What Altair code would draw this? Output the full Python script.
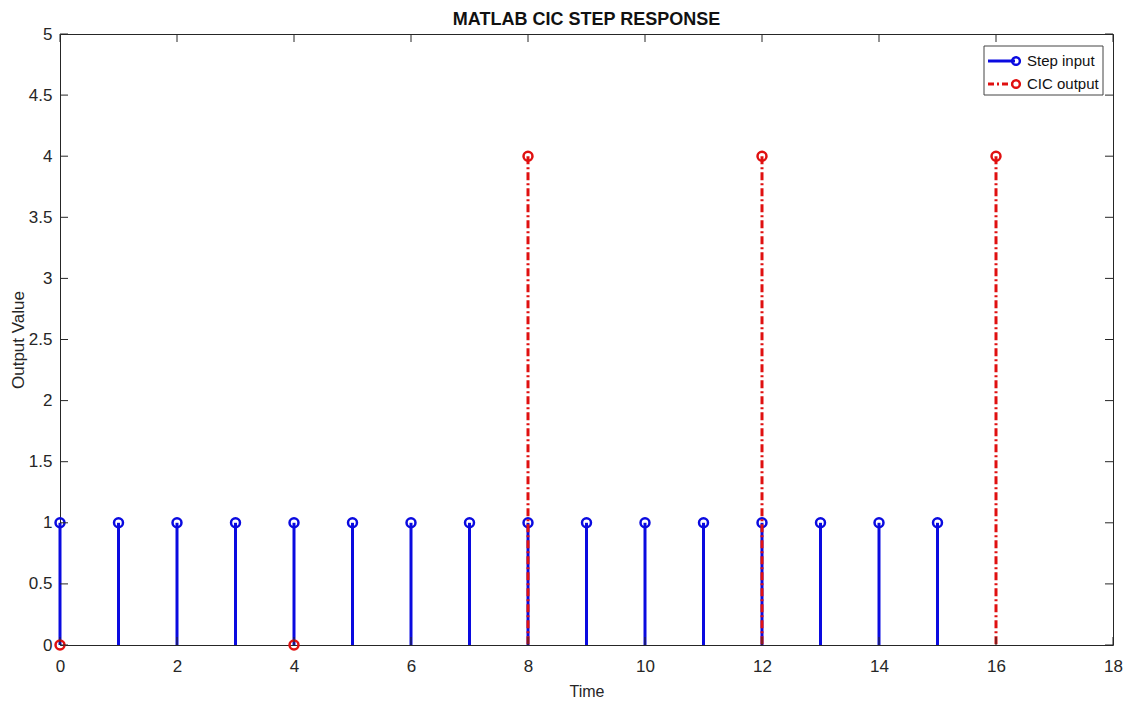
import altair as alt
import pandas as pd

# ---- data ----
step_t = list(range(16))
step_v = [1] * 16
cic_t = [0, 4, 8, 12, 16]
cic_v = [0, 0, 4, 4, 4]
x_ticks = [0, 2, 4, 6, 8, 10, 12, 14, 16, 18]
y_ticks = [0, 0.5, 1, 1.5, 2, 2.5, 3, 3.5, 4, 4.5, 5]
legend_labels = ["Step input", "CIC output"]

BLUE = "#0a0ae0"
RED = "#e01010"
AX = "#262626"
FONT = "Liberation Sans"
W, H = 1053, 611

step_df = pd.DataFrame({"t": step_t, "v": step_v, "base": [0] * len(step_t)})
cic_df = pd.DataFrame({"t": cic_t, "v": cic_v, "base": [0] * len(cic_t)})
xt_df = pd.DataFrame({"t": x_ticks})
yt_df = pd.DataFrame({"v": y_ticks})
one = pd.DataFrame({"a": [0]})

xs = alt.Scale(domain=[0, 18], nice=False, zero=False)
ys = alt.Scale(domain=[0, 5], nice=False, zero=False)

x_axis = alt.Axis(values=x_ticks, ticks=False, domain=False, grid=False, format="~g",
                  labelFlush=False, labelFontSize=17, labelColor=AX, labelFont=FONT,
                  labelPadding=13,
                  title="Time", titleFontSize=16, titleFont=FONT, titleColor=AX,
                  titleFontWeight="normal", titlePadding=9)
y_axis = alt.Axis(values=y_ticks, ticks=False, domain=False, grid=False, format="~g",
                  labelFlush=False, labelFontSize=17, labelColor=AX, labelFont=FONT,
                  labelPadding=8,
                  title="Output Value", titleFontSize=17, titleFont=FONT, titleColor=AX,
                  titleFontWeight="normal", titlePadding=1)

base_x = alt.X("t:Q", scale=xs, axis=x_axis)
base_y = alt.Y("v:Q", scale=ys, axis=y_axis)

step_stems = alt.Chart(step_df).mark_rule(color=BLUE, strokeWidth=3).encode(
    x=base_x, y=base_y, y2="base:Q")
step_pts = alt.Chart(step_df).mark_point(shape="circle", filled=False, color=BLUE,
                                         size=80, strokeWidth=2.5, opacity=1).encode(
    x=alt.X("t:Q", scale=xs), y=alt.Y("v:Q", scale=ys))
cic_stems = alt.Chart(cic_df).mark_rule(color=RED, strokeWidth=3,
                                        strokeDash=[8, 3, 2, 3]).encode(
    x=alt.X("t:Q", scale=xs), y=alt.Y("v:Q", scale=ys), y2="base:Q")
cic_pts = alt.Chart(cic_df).mark_point(shape="circle", filled=False, color=RED,
                                       size=80, strokeWidth=2.5, opacity=1).encode(
    x=alt.X("t:Q", scale=xs), y=alt.Y("v:Q", scale=ys))

# inward ticks on all four sides
tick_bottom = alt.Chart(xt_df).mark_rule(color=AX, strokeWidth=1).encode(
    x=alt.X("t:Q", scale=xs), y=alt.value(H), y2=alt.value(H - 8))
tick_top = alt.Chart(xt_df).mark_rule(color=AX, strokeWidth=1).encode(
    x=alt.X("t:Q", scale=xs), y=alt.value(0), y2=alt.value(8))
tick_left = alt.Chart(yt_df).mark_rule(color=AX, strokeWidth=1).encode(
    y=alt.Y("v:Q", scale=ys), x=alt.value(0), x2=alt.value(8))
tick_right = alt.Chart(yt_df).mark_rule(color=AX, strokeWidth=1).encode(
    y=alt.Y("v:Q", scale=ys), x=alt.value(W), x2=alt.value(W - 8))

# legend (manual, MATLAB style)
lg_box = alt.Chart(one).mark_rect(fill="white", stroke="#444444", strokeWidth=1).encode(
    x=alt.value(924), x2=alt.value(1043), y=alt.value(12), y2=alt.value(61))
r1, r2 = 27, 50
lg_l1 = alt.Chart(one).mark_rule(color=BLUE, strokeWidth=3).encode(
    x=alt.value(928), x2=alt.value(955), y=alt.value(r1))
lg_p1 = alt.Chart(one).mark_point(shape="circle", filled=False, color=BLUE, size=60,
                                  strokeWidth=2.5, opacity=1).encode(
    x=alt.value(956), y=alt.value(r1))
lg_t1 = alt.Chart(one).mark_text(align="left", baseline="middle", fontSize=15,
                                 font=FONT, color="#111111",
                                 text=legend_labels[0]).encode(
    x=alt.value(967), y=alt.value(r1))
lg_l2 = alt.Chart(one).mark_rule(color=RED, strokeWidth=3, strokeDash=[6, 3, 2, 3]).encode(
    x=alt.value(928), x2=alt.value(955), y=alt.value(r2))
lg_p2 = alt.Chart(one).mark_point(shape="circle", filled=False, color=RED, size=60,
                                  strokeWidth=2.5, opacity=1).encode(
    x=alt.value(956), y=alt.value(r2))
lg_t2 = alt.Chart(one).mark_text(align="left", baseline="middle", fontSize=15,
                                 font=FONT, color="#111111",
                                 text=legend_labels[1]).encode(
    x=alt.value(967), y=alt.value(r2))

chart = alt.layer(
    step_stems, step_pts, cic_stems, cic_pts,
    tick_bottom, tick_top, tick_left, tick_right,
    lg_box, lg_l1, lg_p1, lg_t1, lg_l2, lg_p2, lg_t2,
).properties(
    width=W, height=H,
    background="white",
    title=alt.TitleParams("MATLAB CIC STEP RESPONSE", fontSize=18, font=FONT,
                          fontWeight="bold", color="#111111", anchor="middle",
                          offset=7, dy=11),
    autosize=alt.AutoSizeParams(type="none"),
    padding={"left": 60, "top": 34, "right": 21, "bottom": 60},
).configure_view(stroke=AX, strokeWidth=1)

chart.save("out.html", embed_options={"renderer": "svg", "actions": False})
